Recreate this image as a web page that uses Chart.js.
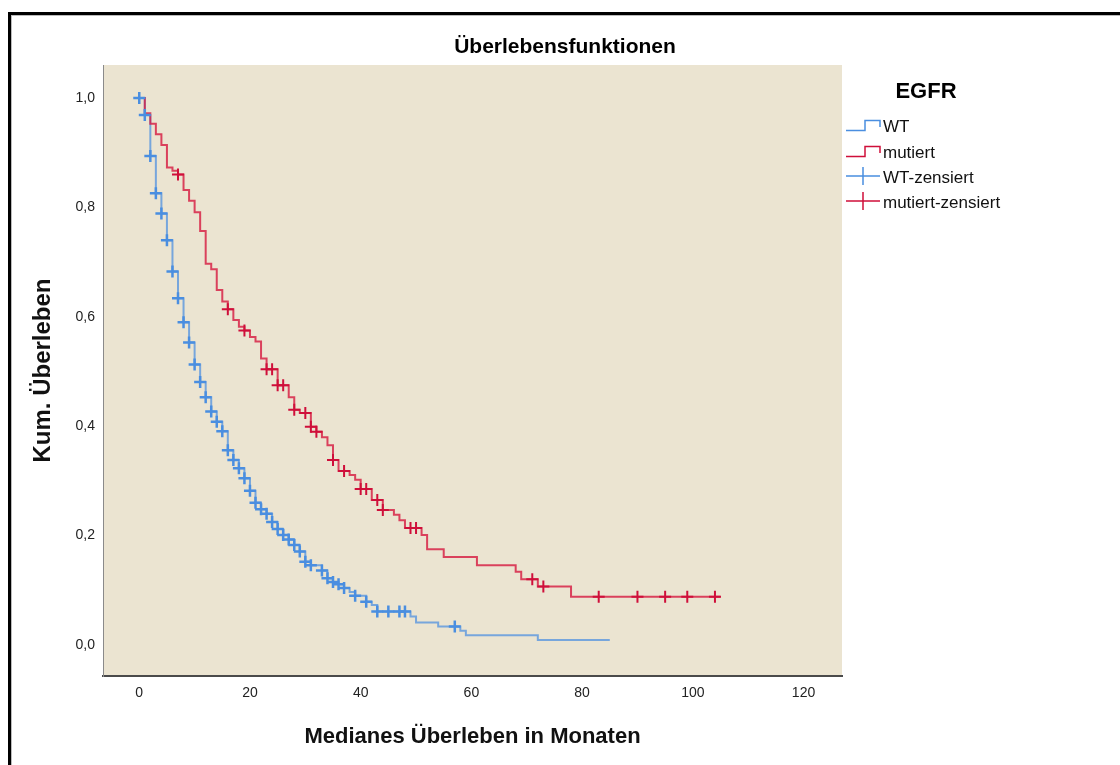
<!DOCTYPE html>
<html>
<head>
<meta charset="utf-8">
<script src="https://cdn.jsdelivr.net/npm/chart.js@4.4.1/dist/chart.umd.min.js"></script>
<style>
  html, body { margin: 0; padding: 0; background: #fff; overflow: hidden; }
  #wrap { position: relative; width: 1120px; height: 765px; }
  #frame {
    position: absolute; left: 8px; top: 12px; width: 1200px; height: 900px;
    border-top: 3px solid #000; border-left: 3px solid #000;
    box-shadow: inset 1px 1px 0 #bbb; pointer-events: none;
  }
  canvas { position: absolute; left: 0; top: 0; }
</style>
</head>
<body>
<div id="wrap">
  <canvas id="km" width="1120" height="765"></canvas>
  <div id="frame"></div>
</div>
<script>
/* =============================================
   DATA (months / cum. survival)
   ============================================= */
const xTicks = [0, 20, 40, 60, 80, 100, 120];
const yTicks = [0, 0.2, 0.4, 0.6, 0.8, 1.0];

// EGFR WT: event times and survival after each step
const wtTimes = [0, 1, 2, 3, 4, 5, 6, 7, 8, 9, 10, 11, 12, 13, 14, 15, 16, 17, 18, 19,
  20, 21, 22, 23, 24, 25, 26, 27, 28, 29, 30, 31, 33, 34, 35, 36, 37, 38, 39, 41,
  42, 43, 49, 50, 54, 58, 59, 72];
const wtSurv = [1.0, 0.969, 0.894, 0.826, 0.789, 0.740, 0.683, 0.634, 0.590, 0.553,
  0.513, 0.481, 0.453, 0.427, 0.408, 0.391, 0.356, 0.338, 0.323, 0.305,
  0.282, 0.260, 0.248, 0.240, 0.225, 0.212, 0.201, 0.193, 0.183, 0.171,
  0.152, 0.146, 0.136, 0.122, 0.115, 0.111, 0.104, 0.097, 0.090, 0.079,
  0.073, 0.061, 0.052, 0.041, 0.034, 0.026, 0.018, 0.009];
const wtEnd = 85;
const wtCensor = [0, 1, 2, 3, 4, 5, 6, 7, 8, 9, 10, 11, 12, 13, 14, 15, 16, 17, 18, 19,
  20, 21, 22, 23, 24, 25, 26, 27, 28, 29, 30, 31, 33, 34, 35, 36, 37, 39, 41, 43,
  45, 47, 48, 57];

// EGFR mutiert
const mutTimes = [0, 1, 2, 3, 4, 5, 6, 7, 8, 9, 10, 11, 12, 13, 14, 15, 16, 17, 18, 19,
  20, 21, 22, 23, 25, 27, 28, 29, 31, 32, 33, 34, 35, 36, 38, 39, 40, 42, 44, 46,
  47, 48, 51, 52, 55, 61, 68, 69, 72, 78];
const mutSurv = [1.0, 0.972, 0.953, 0.934, 0.914, 0.873, 0.867, 0.860, 0.832, 0.812,
  0.791, 0.757, 0.697, 0.687, 0.649, 0.628, 0.614, 0.594, 0.582, 0.575,
  0.563, 0.555, 0.524, 0.504, 0.475, 0.453, 0.430, 0.424, 0.399, 0.390,
  0.380, 0.365, 0.338, 0.318, 0.311, 0.302, 0.285, 0.265, 0.247, 0.238,
  0.228, 0.214, 0.201, 0.175, 0.161, 0.146, 0.134, 0.120, 0.107, 0.088];
const mutEnd = 105;
const mutCensor = [7, 16, 19, 23, 24, 25, 26, 28, 30, 31, 32, 35, 37, 40, 41, 43, 44,
  49, 50, 71, 73, 83, 90, 95, 99, 104];

/* =============================================
   HELPERS
   ============================================= */
const BLUE_LINE = 'rgba(70,140,225,0.7)';
const BLUE_MARK = '#4a8ee0';
const RED_LINE  = 'rgba(214,24,62,0.8)';
const RED_MARK  = '#cf0f3a';

/** step points for a KM curve, last point holds the final level */
function stepPoints(times, surv, end) {
  const pts = times.map((t, i) => ({ x: t, y: surv[i] }));
  pts.push({ x: end, y: surv[surv.length - 1] });
  return pts;
}

/** survival level at time t (value after the step) */
function levelAt(times, surv, t) {
  let v = surv[0];
  times.forEach((tt, i) => { if (tt <= t) v = surv[i]; });
  return v;
}

function censorPoints(censor, times, surv) {
  return censor.map(t => ({ x: t, y: levelAt(times, surv, t) }));
}

const fmt = v => v.toFixed(1).replace('.', ',');

/* =============================================
   TITLE + LEGEND (drawn on the canvas)
   ============================================= */
const decorPlugin = {
  id: 'decor',
  afterDraw(chart) {
    const ctx = chart.ctx;
    ctx.save();
    ctx.fillStyle = '#000';
    ctx.textBaseline = 'middle';

    // title
    ctx.font = 'bold 21px "Liberation Sans", Arial, sans-serif';
    ctx.textAlign = 'center';
    ctx.fillText('Überlebensfunktionen', 565, 47);

    // legend heading
    ctx.font = 'bold 22px "Liberation Sans", Arial, sans-serif';
    ctx.fillText('EGFR', 926, 92);

    // legend rows
    ctx.font = '17px "Liberation Sans", Arial, sans-serif';
    ctx.textAlign = 'left';
    const rows = [
      { label: 'WT', line: BLUE_MARK, y: 127, step: true },
      { label: 'mutiert', line: RED_MARK, y: 153, step: true },
      { label: 'WT-zensiert', line: BLUE_MARK, y: 178, step: false },
      { label: 'mutiert-zensiert', line: RED_MARK, y: 203, step: false }
    ];
    rows.forEach(r => {
      ctx.strokeStyle = r.line;
      ctx.lineWidth = 1.5;
      ctx.beginPath();
      if (r.step) {
        ctx.moveTo(846, r.y + 3.5);
        ctx.lineTo(865, r.y + 3.5);
        ctx.lineTo(865, r.y - 6.5);
        ctx.lineTo(880, r.y - 6.5);
        ctx.lineTo(880, r.y);
      } else {
        ctx.moveTo(846, r.y - 2);
        ctx.lineTo(880, r.y - 2);
        ctx.moveTo(863, r.y - 11);
        ctx.lineTo(863, r.y + 7);
      }
      ctx.stroke();
      ctx.fillStyle = '#111';
      ctx.fillText(r.label, 883, r.y);
    });
    ctx.restore();
  }
};

/* plot area background */
const bgPlugin = {
  id: 'plotBg',
  beforeDraw(chart) {
    const { ctx, chartArea: a } = chart;
    ctx.save();
    ctx.fillStyle = '#ebe4d1';
    ctx.fillRect(a.left, a.top, a.right - a.left, a.bottom - a.top);
    ctx.restore();
  }
};

/* =============================================
   CHART
   ============================================= */
const tickFont = { family: '"Liberation Sans Narrow", "Arial Narrow", "Liberation Sans", sans-serif', size: 14 };
const titleFont = { family: '"Liberation Sans", Arial, sans-serif', size: 22, weight: 'bold' };

new Chart(document.getElementById('km').getContext('2d'), {
  type: 'scatter',
  data: {
    datasets: [
      {
        label: 'WT',
        data: stepPoints(wtTimes, wtSurv, wtEnd),
        showLine: true, stepped: true,
        borderColor: BLUE_LINE, borderWidth: 2,
        pointRadius: 0, order: 3
      },
      {
        label: 'mutiert',
        data: stepPoints(mutTimes, mutSurv, mutEnd),
        showLine: true, stepped: true,
        borderColor: RED_LINE, borderWidth: 2,
        pointRadius: 0, order: 2
      },
      {
        label: 'WT-zensiert',
        data: censorPoints(wtCensor, wtTimes, wtSurv),
        showLine: false, pointStyle: 'cross',
        pointRadius: 6, pointBorderWidth: 2.5,
        borderColor: BLUE_MARK, backgroundColor: BLUE_MARK, order: 1
      },
      {
        label: 'mutiert-zensiert',
        data: censorPoints(mutCensor, mutTimes, mutSurv),
        showLine: false, pointStyle: 'cross',
        pointRadius: 6, pointBorderWidth: 2,
        borderColor: RED_MARK, backgroundColor: RED_MARK, order: 0
      }
    ]
  },
  options: {
    responsive: false,
    animation: false,
    layout: { padding: { left: 0, top: 65, right: 278, bottom: 0 } },
    plugins: {
      legend: { display: false },
      tooltip: { enabled: false },
      title: { display: false }
    },
    scales: {
      x: {
        type: 'linear',
        min: -6.55, max: 126.95,
        afterBuildTicks: s => { s.ticks = xTicks.map(v => ({ value: v })); },
        afterFit: s => { s.height = 89; },
        grid: { display: false, drawTicks: false },
        border: { display: true, color: '#4a4a4a', width: 2 },
        ticks: { font: tickFont, color: '#222', padding: 9, maxRotation: 0 },
        title: {
          display: true, text: 'Medianes Überleben in Monaten',
          font: titleFont, color: '#111', padding: { top: 0, bottom: 15 }
        }
      },
      y: {
        type: 'linear',
        min: -0.0567, max: 1.0604,
        afterBuildTicks: s => { s.ticks = yTicks.map(v => ({ value: v })); },
        afterFit: s => { s.width = 103; },
        grid: { display: false, drawTicks: false },
        border: { display: true, color: '#8a8a8a', width: 1 },
        ticks: { font: tickFont, color: '#222', padding: 8, callback: v => fmt(v) },
        title: {
          display: true, text: 'Kum. Überleben',
          font: { family: '"Liberation Sans", Arial, sans-serif', size: 24, weight: 'bold' },
          color: '#111', padding: { top: 29, bottom: 0 }
        }
      }
    }
  },
  plugins: [bgPlugin, decorPlugin]
});
</script>
</body>
</html>
